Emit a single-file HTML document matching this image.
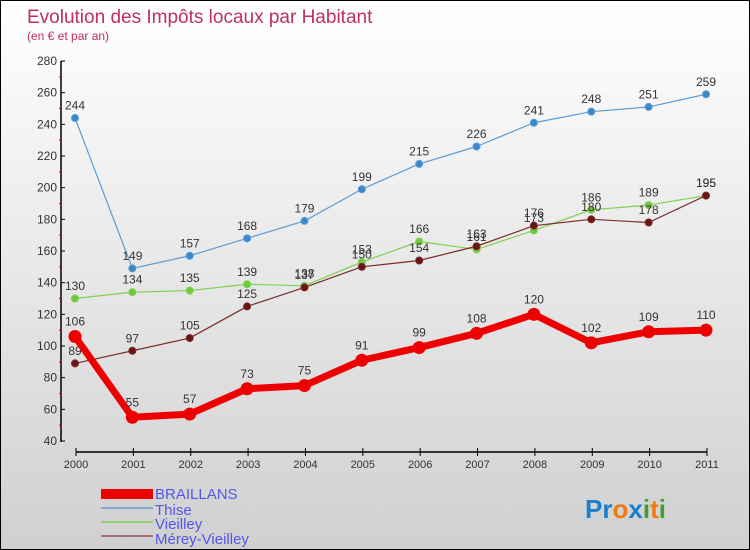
<!DOCTYPE html>
<html><head><meta charset="utf-8"><style>
body{margin:0}
#c{width:748px;height:548px;border:1px solid #000;background:linear-gradient(#fff,#d0d0d0);position:relative;overflow:hidden;font-family:"Liberation Sans",sans-serif}
</style></head><body>
<div id="c">
<svg id="s" width="748" height="548" style="position:absolute;left:0;top:0">
<text x="26" y="22" font-size="19" fill="#c0305a">Evolution des Impôts locaux par Habitant</text>
<text x="26" y="39" font-size="12" fill="#c0305a">(en € et par an)</text>
<g id="axes"></g><g id="series"></g>
<g>
<rect x="100" y="488" width="52" height="10" fill="#e00"/>
<text x="154" y="498" font-size="15" fill="#5555ee">BRAILLANS</text>
<rect x="100" y="506" width="52" height="2" fill="#80a8d0"/>
<text x="154" y="514" font-size="15" fill="#5555ee">Thise</text>
<rect x="100" y="520" width="52" height="2" fill="#90d070"/>
<text x="154" y="528" font-size="15" fill="#5555ee">Vieilley</text>
<rect x="100" y="534" width="52" height="2" fill="#a07070"/>
<text x="154" y="543" font-size="15" fill="#5555ee">Mérey-Vieilley</text>
</g>
<text x="584" y="517" font-size="26" font-weight="bold"><tspan fill="#1a7fd0">Pr</tspan><tspan fill="#f07a10">o</tspan><tspan fill="#1a7fd0">x</tspan><tspan fill="#40a030">i</tspan><tspan fill="#f07a10">t</tspan><tspan fill="#40a030">i</tspan></text>
</svg>
</div>
<script>
const years=[2000,2001,2002,2003,2004,2005,2006,2007,2008,2009,2010,2011];
const braillans=[106,55,57,73,75,91,99,108,120,102,109,110];
const thise=[244,149,157,168,179,199,215,226,241,248,251,259];
const vieilley=[130,134,135,139,138,153,166,161,173,186,189,195];
const merey=[89,97,105,125,137,150,154,163,176,180,178,195];
const yTicks=[40,60,80,100,120,140,160,180,200,220,240,260,280];
const NS='http://www.w3.org/2000/svg';
const X=i=>74+i*(631/11);
const Y=v=>440-(v-40)*(380/240);
function mk(t,a,p){const e=document.createElementNS(NS,t);for(const k in a)e.setAttribute(k,a[k]);p.appendChild(e);return e;}
const ax=document.getElementById('axes'),sr=document.getElementById('series');
mk('line',{x1:60,y1:60,x2:60,y2:441,stroke:'#000','stroke-width':1.5},ax);
mk('line',{x1:75,y1:451,x2:706,y2:451,stroke:'#000','stroke-width':1.5},ax);
yTicks.forEach(v=>{
 mk('line',{x1:60,y1:Y(v),x2:64,y2:Y(v),stroke:'#000'},ax);
 const t=mk('text',{x:56,y:Y(v)+4,'font-size':12,fill:'#333','text-anchor':'end'},ax);t.textContent=v;
 
 
 if(v<280)mk('line',{x1:58,y1:Y(v+10),x2:61,y2:Y(v+10),stroke:'#d00'},ax);
});
years.forEach((yr,i)=>{
 mk('line',{x1:X(i)+1,y1:447,x2:X(i)+1,y2:455,stroke:'#000'},ax);
 const t=mk('text',{x:X(i)+1,y:467,'font-size':11,fill:'#333','text-anchor':'middle'},ax);t.textContent=yr;
 
 
});
function series(d,col,fill,w,r,name){
 const g=mk('g',{},sr);
 
 
 mk('polyline',{points:d.map((v,i)=>X(i)+','+Y(v)).join(' '),fill:'none',stroke:col,'stroke-width':w,'stroke-linejoin':'round'},g);
 d.forEach((v,i)=>{
  const c=mk('circle',{cx:X(i),cy:Y(v),r:r,fill:fill,stroke:col,'stroke-width':1},g);
  
  
  const t=mk('text',{x:X(i),y:Y(v)-(r+5),'font-size':12,fill:'#333','text-anchor':'middle'},g);t.textContent=v;
  
  
 });
}
series(thise,'#5b9bd5','#3a88c8',1.2,3.5,'thise');
series(vieilley,'#80d050','#70c840',1.2,3.5,'vieilley');
series(merey,'#7a2a2a','#6a1515',1.2,3.5,'merey');
series(braillans,'#ee0000','#ee0000',7,6,'braillans');
</script>
</body></html>
